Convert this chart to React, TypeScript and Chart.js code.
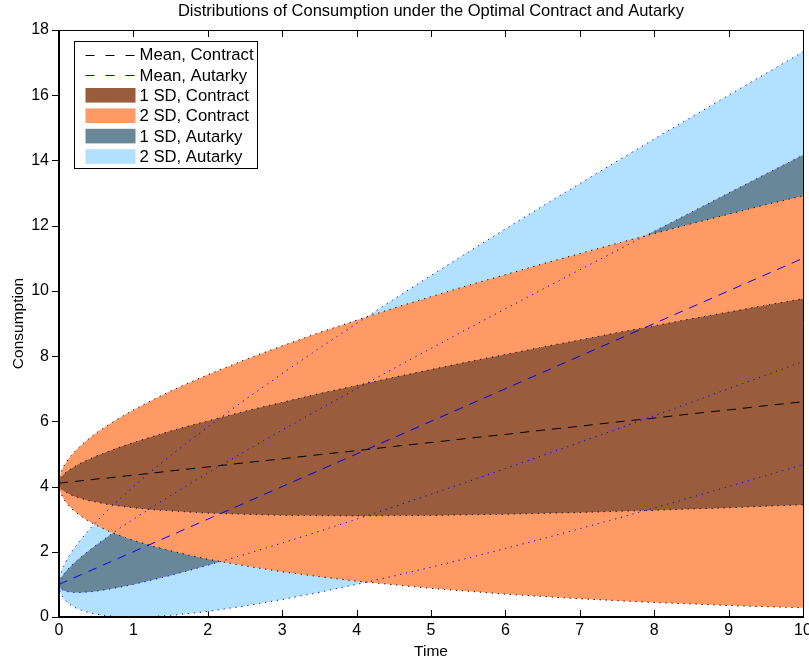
import React, { useEffect, useRef } from "react";
import { Chart, registerables } from "chart.js";

Chart.register(...registerables);

// ---- data ----
const times = [0, 0.01, 0.03, 0.06, 0.1, 0.15, 0.2, 0.3, 0.4, 0.5, 0.65, 0.8, 1, 1.25, 1.5, 1.75, 2, 2.5, 3, 3.5, 4, 4.5, 5, 5.5, 6, 6.5, 7, 7.5, 8, 8.5, 9, 9.5, 10];
const contractMean = [4.1, 4.1, 4.11, 4.12, 4.13, 4.14, 4.15, 4.18, 4.2, 4.23, 4.26, 4.3, 4.35, 4.41, 4.48, 4.54, 4.6, 4.73, 4.85, 4.98, 5.1, 5.23, 5.35, 5.48, 5.6, 5.73, 5.85, 5.98, 6.1, 6.23, 6.35, 6.48, 6.6];
const autarkyMean = [1, 1.01, 1.03, 1.06, 1.1, 1.15, 1.2, 1.3, 1.4, 1.5, 1.65, 1.8, 2, 2.25, 2.5, 2.75, 3, 3.5, 4, 4.5, 5, 5.5, 6, 6.5, 7, 7.5, 8, 8.5, 9, 9.5, 10, 10.5, 11];
const contractSD = [0, 0.1, 0.17, 0.245, 0.316, 0.387, 0.447, 0.548, 0.632, 0.707, 0.806, 0.894, 1.0, 1.118, 1.225, 1.323, 1.414, 1.581, 1.732, 1.871, 2.0, 2.121, 2.236, 2.345, 2.449, 2.55, 2.646, 2.739, 2.828, 2.915, 3.0, 3.082, 3.158];
const autarkySD = [0, 0.1, 0.17, 0.245, 0.316, 0.387, 0.447, 0.548, 0.632, 0.707, 0.806, 0.894, 1.0, 1.118, 1.225, 1.323, 1.414, 1.581, 1.732, 1.871, 2.0, 2.121, 2.236, 2.345, 2.449, 2.55, 2.646, 2.739, 2.828, 2.915, 3.0, 3.082, 3.165];

const legendLabels = ["Mean, Contract", "Mean, Autarky", "1 SD, Contract", "2 SD, Contract", "1 SD, Autarky", "2 SD, Autarky"];
const titleText = "Distributions of Consumption under the Optimal Contract and Autarky";
const xTitle = "Time";
const yTitle = "Consumption";
const xRange = [0, 10];
const yRange = [0, 18];

// ---- styles ----
const FONT = "'Liberation Sans', Arial, Helvetica, sans-serif";
const BROWN = "rgb(153,92,61)";
const ORANGE = "rgb(255,153,102)";
const SLATE = "rgb(104,135,153)";
const LIGHT = "rgb(178,224,255)";
const BLUE = "rgb(0,0,255)";
const BLACK = "rgb(0,0,0)";
const DASH = [9, 7];
const LEGEND_DASH = [9, 11];
const DOT = [1.2, 4.8];

function band(mean: number[], sd: number[], k: number) {
  return times.map((t, i) => ({ x: t, y: mean[i] + k * sd[i] }));
}

function lineDs(label: string, data: any, color: string, dash: number[], order: number) {
  return {
    label,
    data,
    borderColor: color,
    borderWidth: 1,
    borderDash: dash,
    pointRadius: 0,
    fill: false,
    tension: 0,
    order,
  };
}

function areaDs(label: string, data: any, color: string, target: number | false, order: number) {
  return {
    label,
    data,
    borderColor: "transparent",
    borderWidth: 0,
    backgroundColor: color,
    pointRadius: 0,
    fill: target,
    tension: 0,
    order,
  };
}

const legendStyles = [
  { type: "line", color: BLACK },
  { type: "line", color: BLUE },
  { type: "rect", color: BROWN },
  { type: "rect", color: ORANGE },
  { type: "rect", color: SLATE },
  { type: "rect", color: LIGHT },
];

const matlabPlugin = {
  id: "matlabLook",
  beforeDatasetsDraw(chart: any) {
    const { ctx, chartArea: a, scales } = chart;
    const x = scales.x;
    ctx.save();
    ctx.strokeStyle = BLACK;
    ctx.lineWidth = 1;
    ctx.beginPath();
    x.ticks.forEach((t: any) => {
      const px = Math.round(x.getPixelForValue(t.value)) + 0.5;
      ctx.moveTo(px, a.bottom);
      ctx.lineTo(px, a.bottom - 7);
      ctx.moveTo(px, a.top);
      ctx.lineTo(px, a.top + 7);
    });
    ctx.stroke();
    ctx.restore();
  },
  afterDatasetsDraw(chart: any) {
    const { ctx, chartArea: a, scales } = chart;
    const y = scales.y;
    ctx.save();
    // left ticks (outside)
    ctx.strokeStyle = BLACK;
    ctx.lineWidth = 1;
    ctx.beginPath();
    y.ticks.forEach((t: any) => {
      const py = Math.round(y.getPixelForValue(t.value)) + 0.5;
      ctx.moveTo(a.left - 7, py);
      ctx.lineTo(a.left, py);
    });
    ctx.stroke();
    // box
    ctx.lineWidth = 1;
    ctx.beginPath();
    ctx.moveTo(a.left, Math.round(a.top) + 0.5);
    ctx.lineTo(a.right, Math.round(a.top) + 0.5);
    ctx.moveTo(Math.round(a.right) + 0.5, a.top);
    ctx.lineTo(Math.round(a.right) + 0.5, a.bottom);
    ctx.stroke();
    ctx.lineWidth = 2;
    ctx.beginPath();
    ctx.moveTo(Math.round(a.left), a.top);
    ctx.lineTo(Math.round(a.left), a.bottom + 1);
    ctx.moveTo(a.left - 1, Math.round(a.bottom));
    ctx.lineTo(a.right + 1, Math.round(a.bottom));
    ctx.stroke();

    // title
    ctx.fillStyle = BLACK;
    ctx.font = `16.5px ${FONT}`;
    ctx.textAlign = "center";
    ctx.textBaseline = "alphabetic";
    ctx.fillText(titleText, (a.left + a.right) / 2, 16);

    // legend
    const lx = a.left + 15.5;
    const ly = a.top + 11.5;
    const lw = 183;
    const lh = 127;
    ctx.fillStyle = "#fff";
    ctx.fillRect(lx, ly, lw, lh);
    ctx.strokeStyle = BLACK;
    ctx.lineWidth = 1;
    ctx.strokeRect(lx, ly, lw, lh);
    ctx.font = `16.7px ${FONT}`;
    ctx.textAlign = "left";
    ctx.textBaseline = "middle";
    legendLabels.forEach((label, i) => {
      const cy = ly + 13 + i * 20.4;
      const st = legendStyles[i];
      const sx = lx + 11;
      const sw = 50;
      if (st.type === "line") {
        ctx.save();
        ctx.strokeStyle = st.color;
        ctx.lineWidth = 1;
        ctx.setLineDash(LEGEND_DASH);
        ctx.beginPath();
        ctx.moveTo(sx, Math.round(cy) + 0.5);
        ctx.lineTo(sx + sw, Math.round(cy) + 0.5);
        ctx.stroke();
        ctx.restore();
      } else {
        ctx.fillStyle = st.color;
        ctx.fillRect(sx, cy - 7.3, sw, 14.6);
      }
      ctx.fillStyle = BLACK;
      ctx.fillText(label, sx + sw + 4, cy + 1);
    });
    ctx.restore();
  },
};

export default function App() {
  const ref = useRef<HTMLCanvasElement>(null);
  useEffect(() => {
    const datasets: any[] = [
      lineDs(legendLabels[0], band(contractMean, contractSD, 0), BLACK, DASH, 0), // 0
      lineDs(legendLabels[1], band(autarkyMean, autarkySD, 0), BLUE, DASH, 0), // 1
      lineDs("c+1", band(contractMean, contractSD, 1), BLACK, DOT, 1), // 2
      lineDs("c-1", band(contractMean, contractSD, -1), BLACK, DOT, 1), // 3
      lineDs("c+2", band(contractMean, contractSD, 2), BLACK, DOT, 1), // 4
      lineDs("c-2", band(contractMean, contractSD, -2), BLACK, DOT, 1), // 5
      lineDs("a+1", band(autarkyMean, autarkySD, 1), BLUE, DOT, 1), // 6
      lineDs("a-1", band(autarkyMean, autarkySD, -1), BLUE, DOT, 1), // 7
      lineDs("a+2", band(autarkyMean, autarkySD, 2), BLUE, DOT, 1), // 8
      lineDs("a-2", band(autarkyMean, autarkySD, -2), BLUE, DOT, 1), // 9
      areaDs(legendLabels[2], band(contractMean, contractSD, 1), BROWN, 11, 2), // 10
      areaDs("c1 low", band(contractMean, contractSD, -1), BROWN, false, 2), // 11
      areaDs(legendLabels[3], band(contractMean, contractSD, 2), ORANGE, 13, 3), // 12
      areaDs("c2 low", band(contractMean, contractSD, -2), ORANGE, false, 3), // 13
      areaDs(legendLabels[4], band(autarkyMean, autarkySD, 1), SLATE, 15, 4), // 14
      areaDs("a1 low", band(autarkyMean, autarkySD, -1), SLATE, false, 4), // 15
      areaDs(legendLabels[5], band(autarkyMean, autarkySD, 2), LIGHT, 17, 5), // 16
      areaDs("a2 low", band(autarkyMean, autarkySD, -2), LIGHT, false, 5), // 17
    ];
    const chart = new Chart(ref.current as HTMLCanvasElement, {
      type: "line",
      data: { datasets },
      options: {
        animation: false,
        responsive: false,
        devicePixelRatio: 1,
        events: [],
        layout: { padding: { top: 30, right: 6, left: 0, bottom: 0 } },
        plugins: {
          legend: { display: false },
          tooltip: { enabled: false },
          title: { display: false },
        },
        scales: {
          x: {
            type: "linear",
            min: xRange[0],
            max: xRange[1],
            grid: { display: false, drawTicks: false },
            border: { display: false },
            ticks: { stepSize: 1, color: BLACK, font: { family: FONT, size: 16 }, padding: 4, maxRotation: 0 },
            title: { display: true, text: xTitle, color: BLACK, font: { family: FONT, size: 15.5 }, padding: { top: 0, bottom: 1 } },
            afterFit: (s: any) => {
              s.height = 45;
              s.paddingLeft = 0;
              s.paddingRight = 0;
            },
          },
          y: {
            type: "linear",
            min: yRange[0],
            max: yRange[1],
            grid: { display: false, drawTicks: false },
            border: { display: false },
            ticks: { stepSize: 2, color: BLACK, font: { family: FONT, size: 16 }, padding: 10 },
            title: { display: true, text: yTitle, color: BLACK, font: { family: FONT, size: 15.5 }, padding: { top: 9, bottom: 0 } },
            afterFit: (s: any) => {
              s.width = 59;
              s.paddingTop = 0;
              s.paddingBottom = 0;
            },
          },
        },
      } as any,
      plugins: [matlabPlugin],
    });
    return () => chart.destroy();
  }, []);
  return (
    <div style={{ position: "absolute", left: 0, top: 0, width: 809, height: 662, background: "#fff" }}>
      <canvas ref={ref} width={809} height={662} style={{ display: "block", width: 809, height: 662 }} />
    </div>
  );
}
